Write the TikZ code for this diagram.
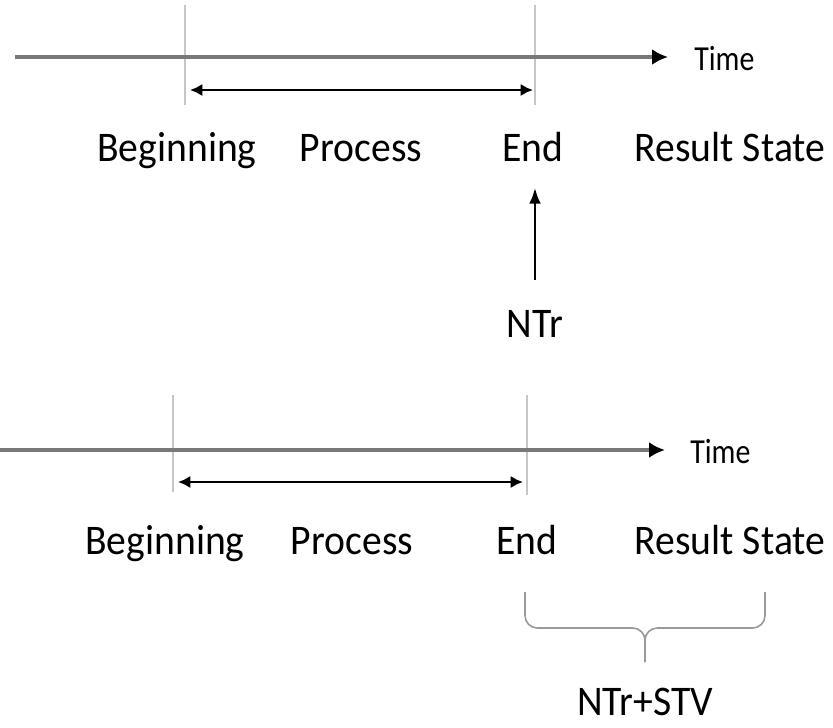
\documentclass[tikz,border=0pt]{standalone}
\usepackage{fontspec}
\setmainfont[FakeStretch=0.94]{Carlito}
\newfontfamily\axisfont[FakeStretch=0.85]{Carlito}
\usetikzlibrary{arrows.meta,positioning}

\begin{document}
\begin{tikzpicture}[x=0.02cm, y=-0.02cm,
    >=Latex,
    axis/.style={draw=gray!95!black, line width=1.8pt,
        -{Latex[color=black, length=9pt, width=9pt]}},
    tick/.style={draw=gray!45, line width=0.8pt},
    span/.style={line width=1.5pt, {Latex[length=7pt, width=7pt]}-{Latex[length=7pt, width=7pt]}},
    lbl/.style={font=\fontsize{24}{28}\selectfont, anchor=base, inner sep=1pt},
    tlbl/.style={font=\axisfont\fontsize{20}{24}\selectfont, anchor=base west, inner sep=0pt}]
   \useasboundingbox (0,0) rectangle (833,728);

   % upper time line
   \coordinate (a0) at (15,57);
   \coordinate (a1) at (668,57);
   \coordinate (b0) at (185,5);  \coordinate (b1) at (185,105);
   \coordinate (e0) at (535,5);  \coordinate (e1) at (535,105);
   \draw[tick] (b0) -- (b1);
   \draw[tick] (e0) -- (e1);
   \draw[axis] (a0) -- (a1);
   \node[tlbl] (time1) at (694,70) {Time};
   \draw[span] (190,90) coordinate (s0) -- (533,90) coordinate (s1);

   \node[lbl] (beg1)  at (177,161) {Beginning};
   \node[lbl] (proc1) at (361,161) {Process};
   \node[lbl] (end1)  at (533,161) {End};
   \node[lbl] (res1)  at (730,161) {Result State};
   \node[lbl] (ntr)   at (535,337) {NTr};
   \draw[->, line width=1.3pt, shorten >=14pt, shorten <=16pt]
       (ntr.north) -- (end1.south -| ntr.north);

   % lower time line
   \coordinate (c0) at (0,450);
   \coordinate (c1) at (665,450);
   \coordinate (f0) at (173,395);  \coordinate (f1) at (173,492);
   \coordinate (g0) at (527,395);  \coordinate (g1) at (527,495);
   \draw[tick] (f0) -- (f1);
   \draw[tick] (g0) -- (g1);
   \draw[axis] (c0) -- (c1);
   \node[tlbl] (time2) at (690,463) {Time};
   \draw[span] (178,482) coordinate (r0) -- (523,482) coordinate (r1);

   \node[lbl] (beg2)  at (165,554) {Beginning};
   \node[lbl] (proc2) at (352,554) {Process};
   \node[lbl] (end2)  at (527,554) {End};
   \node[lbl] (res2)  at (730,554) {Result State};
   \node[lbl] (stv)   at (645,715) {NTr+STV};

   % brace under End .. Result State
   \coordinate (k0) at (525,592);
   \coordinate (k1) at (765,592);
   \coordinate (km) at (645,628);
   \coordinate (kt) at (645,662);
   \draw[gray!80, line width=0.9pt, rounded corners=7pt]
       (k0) |- (km) -- (kt);
   \draw[gray!80, line width=0.9pt, rounded corners=7pt]
       (k1) |- (km) -- (kt);
\end{tikzpicture}
\end{document}
